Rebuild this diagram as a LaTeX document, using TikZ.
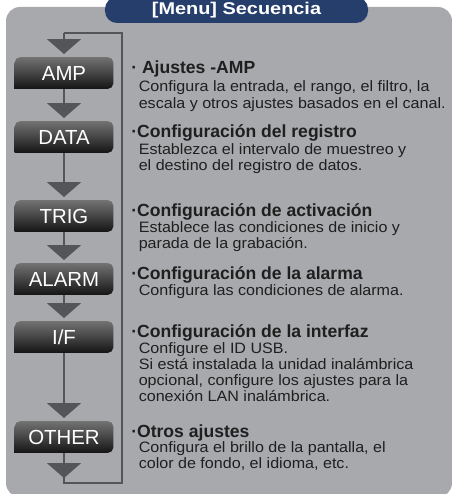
\documentclass[tikz,border=0pt]{standalone}
\usepackage{fontspec}
\setmainfont{Liberation Sans}
\newfontfamily\widefont{Liberation Sans}[FakeStretch=1.17]
\newfontfamily\bodyfont{Liberation Sans}[FakeStretch=1.07]
\usetikzlibrary{arrows.meta,positioning}
\definecolor{bggray}{RGB}{167,169,172}
\definecolor{titleblue}{RGB}{38,62,108}
\definecolor{linegray}{RGB}{84,85,88}
\pgfdeclarelayer{back}
\pgfsetlayers{back,main}
\newcommand{\desclines}[1]{\begin{tabular}[t]{@{}l@{}}#1\end{tabular}}

\begin{document}
\begin{tikzpicture}[
  x=0.25mm, y=-0.25mm,
  banner/.style={fill=titleblue,rounded corners=3mm,minimum width=65.75mm,
                 minimum height=6.5mm,text=white,
                 font=\widefont\fontsize{12.1}{13}\selectfont\bfseries},
  box/.style={minimum width=24.5mm,minimum height=7.75mm,inner sep=0pt,
              text=white,font=\fontsize{14.5}{15}\selectfont},
  shadebox/.style={top color=black!55,bottom color=black!92},
  head/.style={anchor=base west,inner sep=0pt,text=black!88,
               font=\fontsize{12.5}{13}\selectfont\bfseries},
  body/.style={anchor=base west,inner sep=0pt,text=black!88,
               font=\bodyfont\fontsize{10.7}{11.4}\selectfont},
  wire/.style={draw=linegray,line width=0.6mm},
  ar/.style={wire,-{Triangle[length=3.75mm,width=8.5mm]},shorten >=0.8mm}]

\useasboundingbox (0,0) rectangle (451,494);
\begin{pgfonlayer}{back}
\fill[bggray,rounded corners=3.5mm] (6,7) rectangle (452,497);
\end{pgfonlayer}

\node[banner] (title) at (236.5,10) {[Menu] Secuencia};

% menu column
\node[box] (amp)   at (64,73)  {AMP};
\node[box] (data)  at (64,137) {DATA};
\node[box] (trig)  at (64,216) {TRIG};
\node[box] (alarm) at (64,279) {ALARM};
\node[box] (iface) at (64,337) {I/F};
\node[box] (other) at (64,437) {OTHER};

\begin{pgfonlayer}{back}
\foreach \b in {amp,data,trig,alarm,iface,other}
  \shade[shadebox] (\b.south west) [rounded corners=1.3mm] -- (\b.north west)
    -- (\b.north east) -- (\b.south east) [sharp corners] -- cycle;
\end{pgfonlayer}

\coordinate (top) at (64,33);
\coordinate (tr) at (122,33);
\coordinate (bl) at (64,483);
\coordinate (tipb) at (64,478);

\draw[wire] (other) -- (bl) -| (tr) -- (top);
\foreach \a/\b in {top/amp,amp/data,data/trig,trig/alarm,alarm/iface,iface/other}
  \draw[ar] (\a) -- (\b);
\draw[ar,shorten >=0pt] (other) -- (tipb);

% descriptions
\coordinate (tx) at (131,0);
\node[head] (hamp) at (amp.center -| tx) {· Ajustes -AMP};
\node[body] (bamp) at ([shift={(7.5,19)}]hamp.base west)
  {\desclines{Configura la entrada, el rango, el filtro, la\\
   escala y otros ajustes basados en el canal.}};
\node[head] (hdata) at (data.center -| tx) {·Configuración del registro};
\node[body] (bdata) at ([shift={(7.5,17)}]hdata.base west)
  {\desclines{Establezca el intervalo de muestreo y\\
   el destino del registro de datos.}};
\node[head] (htrig) at (trig.center -| tx) {·Configuración de activación};
\node[body] (btrig) at ([shift={(7.5,16)}]htrig.base west)
  {\desclines{Establece las condiciones de inicio y\\
   parada de la grabación.}};
\node[head] (halarm) at (alarm.center -| tx) {·Configuración de la alarma};
\node[body] (balarm) at ([shift={(7.5,16)}]halarm.base west)
  {Configura las condiciones de alarma.};
\node[head] (hiface) at (iface.center -| tx) {·Configuración de la interfaz};
\node[body] (biface) at ([shift={(7.5,16)}]hiface.base west)
  {\desclines{Configure el ID USB.\\
   Si está instalada la unidad inalámbrica\\
   opcional, configure los ajustes para la\\
   conexión LAN inalámbrica.}};
\node[head] (hother) at (other.center -| tx) {·Otros ajustes};
\node[body] (bother) at ([shift={(7.5,15)}]hother.base west)
  {\desclines{Configura el brillo de la pantalla, el\\
   color de fondo, el idioma, etc.}};
\end{tikzpicture}
\end{document}
